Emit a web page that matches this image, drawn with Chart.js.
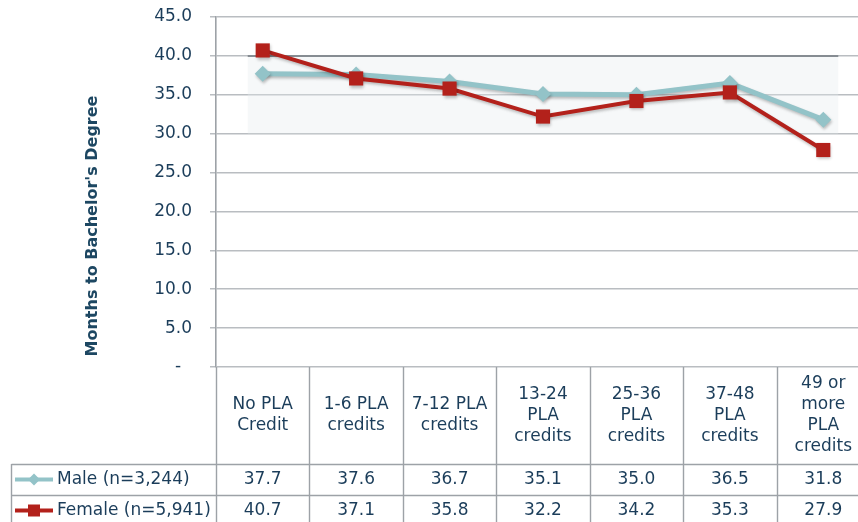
<!DOCTYPE html>
<html>
<head>
<meta charset="utf-8">
<script src="https://cdn.jsdelivr.net/npm/chart.js@4.4.0/dist/chart.umd.min.js"></script>
<style>
  html, body { margin: 0; padding: 0; background: #fff; overflow: hidden; }
  #wrap { position: relative; width: 872px; height: 530px; }
</style>
</head>
<body>
<div id="wrap"><canvas id="myCanvas" width="872" height="530"></canvas></div>
<script>
'use strict';

// chart data
const categories = [
  ['No PLA', 'Credit'],
  ['1-6 PLA', 'credits'],
  ['7-12 PLA', 'credits'],
  ['13-24', 'PLA', 'credits'],
  ['25-36', 'PLA', 'credits'],
  ['37-48', 'PLA', 'credits'],
  ['49 or', 'more', 'PLA', 'credits']
];
const seriesNames = ['Male (n=3,244)', 'Female (n=5,941)'];
const maleValues = [37.7, 37.6, 36.7, 35.1, 35.0, 36.5, 31.8];
const femaleValues = [40.7, 37.1, 35.8, 32.2, 34.2, 35.3, 27.9];
const yTickValues = [0, 5, 10, 15, 20, 25, 30, 35, 40, 45];
const yTickLabels = ['-  ', '5.0', '10.0', '15.0', '20.0', '25.0', '30.0', '35.0', '40.0', '45.0'];
const yTitle = "Months to Bachelor's Degree";

const maleColor = '#93c3c8';
const femaleColor = '#b3211b';
const textColor = '#1b3d5a';
const lineGray = '#9da2a7';
const font = 'DejaVu Sans';

Chart.defaults.font.family = font;
Chart.defaults.font.size = 17;
Chart.defaults.color = textColor;

const canvasEl = document.getElementById('myCanvas');
const ctx = canvasEl.getContext('2d');

// faint band behind the lines, plus the darker line at 40
const bandPlugin = {
  id: 'band',
  beforeDatasetsDraw(chart) {
    const {ctx, scales: {x, y}} = chart;
    const x0 = x.getPixelForValue(0) - 15;
    const x1 = x.getPixelForValue(categories.length - 1) + 15;
    const yTop = y.getPixelForValue(40);
    const yBot = y.getPixelForValue(30);
    ctx.save();
    ctx.fillStyle = 'rgba(230,236,238,0.35)';
    ctx.fillRect(x0, yTop, x1 - x0, yBot - yTop);
    ctx.strokeStyle = '#868c92';
    ctx.lineWidth = 2;
    ctx.beginPath();
    ctx.moveTo(x0, yTop);
    ctx.lineTo(x1, yTop);
    ctx.stroke();
    ctx.restore();
  }
};

// soft drop shadow on the series
const shadowPlugin = {
  id: 'shadow',
  beforeDatasetDraw(chart) {
    const c = chart.ctx;
    c.save();
    c.shadowColor = 'rgba(0,0,0,0.25)';
    c.shadowBlur = 3;
    c.shadowOffsetX = 1;
    c.shadowOffsetY = 2;
  },
  afterDatasetDraw(chart) {
    chart.ctx.restore();
  }
};

// data table under the plot + rotated y title
const tablePlugin = {
  id: 'dataTable',
  afterDraw(chart) {
    const {ctx, chartArea, scales: {x}} = chart;
    const n = categories.length;
    const colW = x.width / n;
    const top = chartArea.bottom;
    const headBottom = top + 97;
    const rowH = 31;
    const bottom = headBottom + rowH * 2;
    const leftX = 11.5;

    ctx.save();
    ctx.strokeStyle = lineGray;
    ctx.lineWidth = 1.4;
    ctx.beginPath();
    for (let i = 0; i <= n; i++) {
      const vx = Math.round(x.left + colW * i) + 0.5;
      ctx.moveTo(vx, top);
      ctx.lineTo(vx, bottom);
    }
    ctx.moveTo(leftX, headBottom);
    ctx.lineTo(leftX, bottom);
    for (let r = 0; r <= 2; r++) {
      const hy = Math.round(headBottom + r * rowH) + 0.5;
      ctx.moveTo(leftX, hy);
      ctx.lineTo(x.right, hy);
    }
    ctx.stroke();

    ctx.fillStyle = textColor;
    ctx.font = '17px "' + font + '"';
    ctx.textAlign = 'center';
    ctx.textBaseline = 'middle';
    const headMid = (top + headBottom) / 2;
    const lh = 21;
    categories.forEach((lines, i) => {
      const cx = x.getPixelForValue(i);
      const y0 = headMid - (lines.length - 1) * lh / 2;
      lines.forEach((t, k) => ctx.fillText(t, cx, y0 + k * lh));
    });

    const rows = [maleValues, femaleValues];
    rows.forEach((vals, r) => {
      const cy = headBottom + rowH * r + rowH / 2;
      vals.forEach((v, i) => {
        ctx.fillText(v.toFixed(1), x.getPixelForValue(i), cy);
      });
    });

    // row headers with legend keys
    const keys = [
      {color: maleColor, shape: 'diamond'},
      {color: femaleColor, shape: 'square'}
    ];
    keys.forEach((k, r) => {
      const cy = headBottom + rowH * r + rowH / 2;
      ctx.strokeStyle = k.color;
      ctx.fillStyle = k.color;
      ctx.lineWidth = 4;
      ctx.beginPath();
      ctx.moveTo(15, cy);
      ctx.lineTo(53, cy);
      ctx.stroke();
      ctx.beginPath();
      if (k.shape === 'diamond') {
        ctx.moveTo(34, cy - 6);
        ctx.lineTo(40, cy);
        ctx.lineTo(34, cy + 6);
        ctx.lineTo(28, cy);
        ctx.closePath();
      } else {
        ctx.rect(28, cy - 6, 12, 12);
      }
      ctx.fill();
      ctx.fillStyle = textColor;
      ctx.textAlign = 'left';
      ctx.fillText(seriesNames[r], 57, cy);
    });

    // y axis title
    ctx.save();
    ctx.translate(93, 226);
    ctx.rotate(-Math.PI / 2);
    ctx.textAlign = 'center';
    ctx.textBaseline = 'middle';
    ctx.font = 'bold 16px "' + font + '"';
    ctx.fillStyle = '#1d4762';
    ctx.fillText(yTitle, 0, 0);
    ctx.restore();

    ctx.restore();
  }
};

const lineChart = new Chart(ctx, {
  type: 'line',
  data: {
    labels: categories,
    datasets: [{
      label: seriesNames[0],
      data: maleValues,
      borderColor: maleColor,
      backgroundColor: maleColor,
      borderWidth: 5,
      pointStyle: 'rectRot',
      pointRadius: 8,
      pointBorderWidth: 0,
      order: 2
    }, {
      label: seriesNames[1],
      data: femaleValues,
      borderColor: femaleColor,
      backgroundColor: femaleColor,
      borderWidth: 4,
      pointStyle: 'rect',
      pointRadius: 10,
      pointBorderWidth: 0,
      order: 1
    }]
  },
  options: {
    responsive: false,
    animation: false,
    layout: {
      autoPadding: false,
      padding: {top: 17, right: 2, bottom: 163, left: 0}
    },
    plugins: {
      legend: {display: false},
      tooltip: {enabled: false}
    },
    scales: {
      x: {
        offset: true,
        ticks: {display: false},
        grid: {display: false},
        border: {display: false},
        afterFit: (scale) => { scale.height = 0; }
      },
      y: {
        min: 0,
        max: 45,
        afterBuildTicks: (scale) => { scale.ticks = yTickValues.map(v => ({value: v})); },
        ticks: {
          padding: 18,
          color: textColor,
          font: {size: 17},
          callback: (v) => yTickLabels[yTickValues.indexOf(v)]
        },
        grid: {
          color: '#b9bdc1',
          lineWidth: 1.5,
          tickLength: 6
        },
        border: {color: lineGray, width: 1.6},
        afterFit: (scale) => {
          scale.width = 216;
          scale.paddingTop = 0;
          scale.paddingBottom = 0;
        }
      }
    }
  },
  plugins: [bandPlugin, shadowPlugin, tablePlugin]
});
</script>
</body>
</html>
